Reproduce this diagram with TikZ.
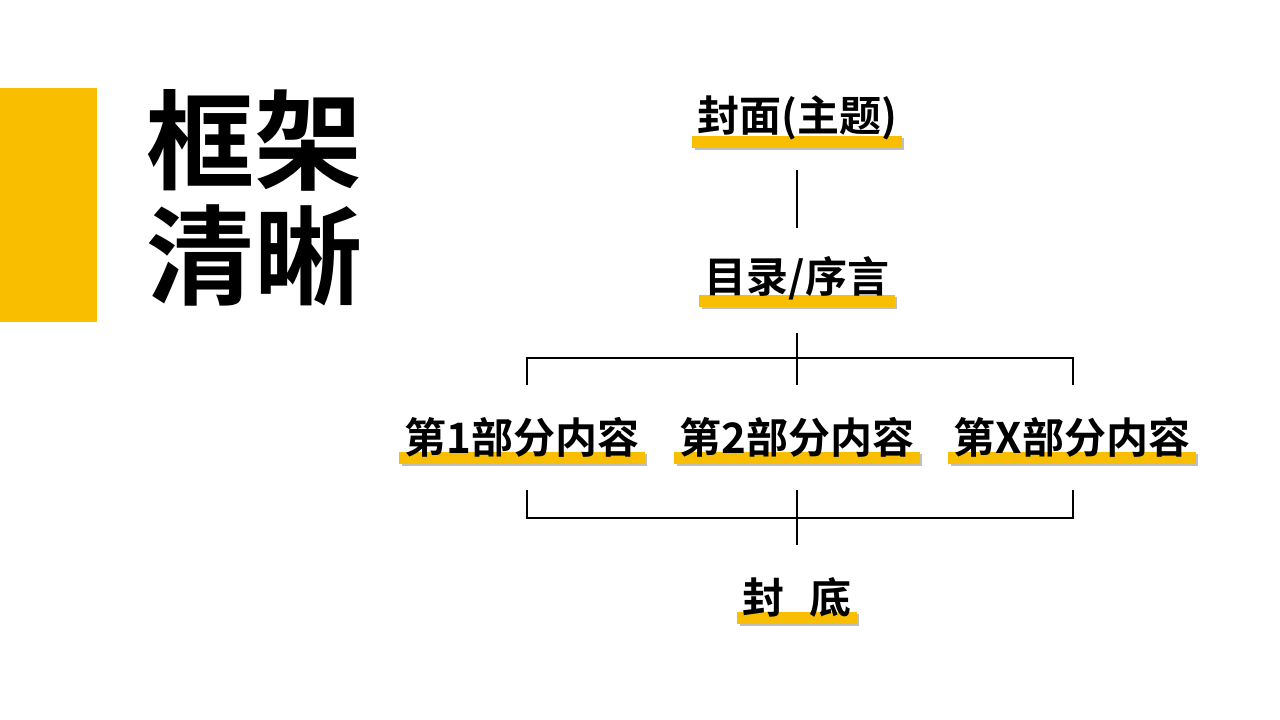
\documentclass[tikz,border=0pt]{standalone}
\usepackage{fontspec}
\setmainfont{Noto Sans CJK SC}
\newfontfamily\cjkbold{Noto Sans CJK SC Bold}
\usetikzlibrary{positioning,backgrounds}
\definecolor{barYellow}{RGB}{250,190,0}
\tikzset{
  title/.style={font=\cjkbold\fontsize{54}{60}\selectfont, inner sep=0pt, anchor=west},
  item/.style={font=\cjkbold\fontsize{21}{24}\selectfont, inner sep=0pt},
  link/.style={line width=0.7pt, black}
}
\begin{document}
\begin{tikzpicture}[x=0.5pt,y=-0.5pt]
\useasboundingbox (0,0) rectangle (1280,719);
\fill[barYellow] (0,88) rectangle (97,322);
% title
\node[title] (t1) at (146,140) {框架};
\node[title] (t2) at (146,255) {清晰};
% items
\node[item] (cover) at (797,118) {封面(主题)};
\node[item] (toc) at (797,278) {目录/序言};
\node[item] (p1) at (522,437) {第1部分内容};
\node[item] (p2) at (797,437) {第2部分内容};
\node[item] (px) at (1072,437) {第X部分内容};
\node[item] (back) at (797,597) {封\hspace{0.6em}底};
% highlight bars
\begin{scope}[on background layer]
\foreach \n in {cover,toc,p1,p2,px,back}{
  \fill[black!25] ([xshift=-1pt,yshift=-4.5pt]\n.south west) rectangle ([xshift=3.5pt,yshift=1.5pt]\n.south east);
  \fill[barYellow] ([xshift=-2.5pt,yshift=-3.5pt]\n.south west) rectangle ([xshift=2.5pt,yshift=2.5pt]\n.south east);
}
\end{scope}
% connectors
\coordinate (c1) at (797,170);
\coordinate (c2) at (797,228);
\coordinate (s0) at (797,333);
\coordinate (s1) at (797,358);
\coordinate (sl) at (527,358);
\coordinate (sr) at (1073,358);
\draw[link] (c1) -- (c2);
\draw[link] (s0) -- (s1) -- (797,385);
\draw[link] (527,385) -- (sl) -- (sr) -- (1073,385);
\coordinate (b1) at (527,518);
\coordinate (b2) at (1073,518);
\draw[link] (527,490) -- (b1) -- (b2) -- (1073,490);
\draw[link] (797,490) -- (797,545);
\end{tikzpicture}
\end{document}
